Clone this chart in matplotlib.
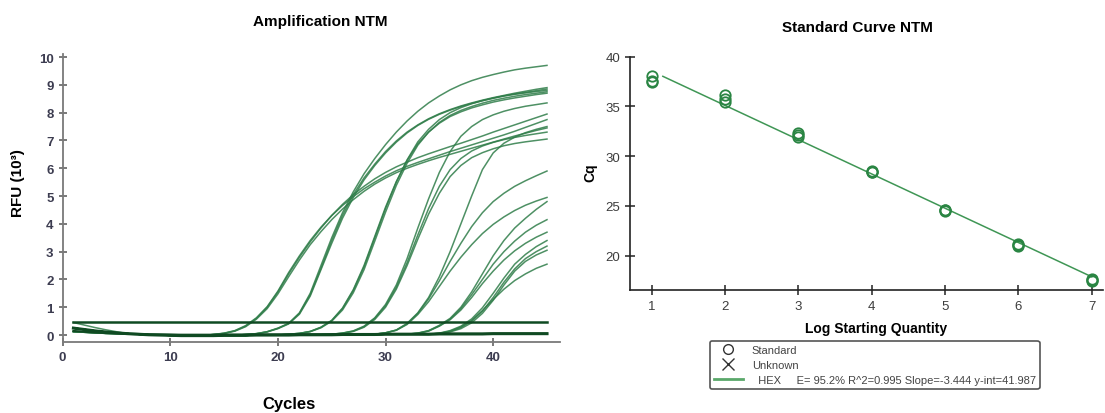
import matplotlib
matplotlib.use("Agg")
import matplotlib.pyplot as plt
from matplotlib.lines import Line2D

plt.rcParams['font.family'] = ['Liberation Sans', 'DejaVu Sans']

# ---- amplification data (RFU x 10^3 per cycle) ----
CYCLES = list(range(1, 46))
THRESHOLD = 0.48

# shared baseline (cycles 1..45)
BASELINE = [0.25, 0.2, 0.15, 0.11, 0.08, 0.05, 0.03, 0.01, 0.0, -0.01,
            -0.02, -0.02, -0.02, -0.02, -0.01, -0.01, -0.01, 0.0, 0.0, 0.0,
            0.0, 0.01, 0.01, 0.01, 0.01, 0.02, 0.02, 0.02, 0.02, 0.03,
            0.03, 0.03, 0.03, 0.03, 0.04, 0.04, 0.04, 0.04, 0.04, 0.05,
            0.05, 0.05, 0.05, 0.05, 0.05]
HOOK_START = [0.45, 0.36, 0.27, 0.19, 0.12]
LOW_START = [0.12, 0.1, 0.08, 0.06, 0.05]

# rising part of each well, from the cycle given in RISE_FROM
LOG7_A = [0.02, 0.06, 0.15, 0.32, 0.6, 1.0, 1.55, 2.2, 2.8, 3.35, 3.85, 4.3, 4.7, 5.05, 5.35, 5.62,
          5.85, 6.05, 6.22, 6.38, 6.52, 6.65, 6.78, 6.9, 7.03, 7.16, 7.3, 7.43, 7.56, 7.69, 7.82, 7.95]
LOG7_B = [0.02, 0.06, 0.14, 0.3, 0.57, 0.95, 1.48, 2.1, 2.7, 3.25, 3.72, 4.15, 4.53, 4.87, 5.17, 5.43,
          5.65, 5.84, 6.0, 6.14, 6.27, 6.39, 6.5, 6.61, 6.72, 6.83, 6.94, 7.05, 7.16, 7.26, 7.36, 7.45]
LOG7_C = [0.02, 0.07, 0.16, 0.34, 0.62, 1.02, 1.58, 2.25, 2.85, 3.4, 3.88, 4.3, 4.66, 4.98, 5.26, 5.5,
          5.72, 5.91, 6.07, 6.21, 6.34, 6.47, 6.6, 6.72, 6.84, 6.96, 7.08, 7.2, 7.33, 7.47, 7.61, 7.75]
LOG6_A = [0.02, 0.05, 0.12, 0.25, 0.42, 0.8, 1.5, 2.5, 3.5, 4.4, 5.15, 5.8, 6.35, 6.85, 7.3, 7.7,
          8.05, 8.35, 8.6, 8.82, 9.0, 9.15, 9.27, 9.37, 9.46, 9.54, 9.6, 9.65, 9.7]
LOG6_B = [0.02, 0.05, 0.12, 0.24, 0.42, 0.78, 1.45, 2.4, 3.4, 4.3, 5.05, 5.65, 6.15, 6.6, 6.98, 7.3,
          7.56, 7.78, 7.96, 8.11, 8.24, 8.35, 8.45, 8.54, 8.62, 8.7, 8.77, 8.84, 8.9]
LOG6_C = [0.02, 0.05, 0.11, 0.23, 0.4, 0.75, 1.4, 2.35, 3.3, 4.2, 4.95, 5.58, 6.1, 6.55, 6.94, 7.27,
          7.54, 7.76, 7.94, 8.09, 8.22, 8.33, 8.43, 8.52, 8.6, 8.67, 8.73, 8.79, 8.85]
LOG5_A = [0.03, 0.06, 0.13, 0.28, 0.52, 0.95, 1.6, 2.45, 3.5, 4.55, 5.5, 6.3, 6.95, 7.4, 7.75, 8.0,
          8.18, 8.32, 8.43, 8.52, 8.6, 8.66, 8.71, 8.76, 8.8]
LOG5_B = [0.03, 0.06, 0.12, 0.26, 0.5, 0.9, 1.52, 2.35, 3.38, 4.42, 5.38, 6.18, 6.83, 7.3, 7.65, 7.9,
          8.08, 8.22, 8.34, 8.44, 8.52, 8.59, 8.65, 8.7, 8.75]
LOG5_C = [0.03, 0.06, 0.13, 0.28, 0.53, 0.97, 1.63, 2.5, 3.55, 4.6, 5.52, 6.28, 6.88, 7.3, 7.62, 7.86,
          8.03, 8.17, 8.28, 8.38, 8.46, 8.53, 8.59, 8.65, 8.7]
LOG4_A = [0.03, 0.07, 0.15, 0.32, 0.62, 1.1, 1.8, 2.75, 3.85, 4.9, 5.85, 6.6, 7.15, 7.5, 7.75, 7.92,
          8.05, 8.15, 8.23, 8.29, 8.35]
LOG4_B = [0.03, 0.07, 0.14, 0.3, 0.6, 1.05, 1.72, 2.6, 3.6, 4.55, 5.35, 5.95, 6.35, 6.62, 6.8, 6.93,
          7.03, 7.11, 7.18, 7.24, 7.3]
LOG4_C = [0.03, 0.06, 0.13, 0.28, 0.56, 1.0, 1.65, 2.5, 3.45, 4.35, 5.1, 5.7, 6.1, 6.38, 6.56, 6.7,
          6.81, 6.89, 6.95, 7.0, 7.05]
LOG3_A = [0.03, 0.08, 0.18, 0.42, 0.8, 1.35, 2.1, 3.0, 4.0, 5.0, 5.95, 6.55, 6.9, 7.12, 7.28, 7.4, 7.5]
LOG3_B = [0.03, 0.08, 0.18, 0.4, 0.78, 1.3, 1.95, 2.65, 3.3, 3.9, 4.4, 4.8, 5.1, 5.35, 5.55, 5.73, 5.9]
LOG3_C = [0.03, 0.08, 0.17, 0.38, 0.74, 1.2, 1.75, 2.3, 2.8, 3.25, 3.65, 3.98, 4.25, 4.48, 4.67, 4.82, 4.95]
LOG2_A = [0.03, 0.07, 0.16, 0.35, 0.6, 1.0, 1.55, 2.2, 2.85, 3.4, 3.85, 4.2, 4.52, 4.8]
LOG2_B = [0.03, 0.07, 0.15, 0.33, 0.57, 0.95, 1.45, 2.0, 2.55, 3.0, 3.38, 3.7, 3.95, 4.15]
LOG2_C = [0.03, 0.06, 0.14, 0.32, 0.55, 0.9, 1.35, 1.85, 2.3, 2.7, 3.03, 3.3, 3.52, 3.7]
LOG1_A = [0.03, 0.07, 0.16, 0.32, 0.58, 0.98, 1.5, 2.05, 2.55, 2.9, 3.18, 3.4]
LOG1_B = [0.03, 0.06, 0.13, 0.27, 0.5, 0.86, 1.35, 1.9, 2.38, 2.75, 3.0, 3.2]
LOG1_C = [0.02, 0.05, 0.11, 0.23, 0.44, 0.78, 1.25, 1.8, 2.3, 2.65, 2.88, 3.05]
LOG1_D = [0.03, 0.06, 0.14, 0.29, 0.53, 0.88, 1.28, 1.65, 1.96, 2.2, 2.4, 2.55]

RISE_FROM = {'log7': 14, 'log6': 17, 'log5': 21, 'log4': 25, 'log3': 29, 'log2': 32, 'log1': 34}

# ---- standard curve data ----
LOG_QTY = [1, 1, 1, 2, 2, 2, 3, 3, 3, 4, 4, 4, 5, 5, 5, 6, 6, 6, 7, 7, 7]
CQ = [38.1, 37.6, 37.5, 36.1, 35.7, 35.4, 32.3, 32.1, 31.9, 28.5, 28.4, 28.4,
      24.6, 24.5, 24.6, 21.2, 21.1, 21.0, 17.7, 17.5, 17.6]
FIT_RANGE = [1.15, 7.0]
EFFICIENCY = 95.2
R2 = 0.995
SLOPE = -3.444
YINT = 41.987

CURVE_COLOR = '#2f7d49'
DARK = '#0f4a22'


def well(group, rise, start=None):
    first = RISE_FROM[group]
    ys = BASELINE[:first - 1] + rise
    if start:
        ys = start + ys[len(start):]
    return ys


fig = plt.figure(figsize=(11.05, 4.14), dpi=100)

# ------------- amplification plot -------------
ax1 = fig.add_axes([0.0567, 0.1715, 0.450, 0.695])
wells = [
    well('log7', LOG7_A), well('log7', LOG7_B, LOW_START), well('log7', LOG7_C),
    well('log6', LOG6_A), well('log6', LOG6_B, LOW_START), well('log6', LOG6_C),
    well('log5', LOG5_A), well('log5', LOG5_B), well('log5', LOG5_C, LOW_START),
    well('log4', LOG4_A), well('log4', LOG4_B), well('log4', LOG4_C),
    well('log3', LOG3_A), well('log3', LOG3_B, LOW_START), well('log3', LOG3_C),
    well('log2', LOG2_A), well('log2', LOG2_B), well('log2', LOG2_C),
    well('log1', LOG1_A, HOOK_START), well('log1', LOG1_B), well('log1', LOG1_C), well('log1', LOG1_D),
]
for ys in wells:
    ax1.plot(CYCLES, ys, color=CURVE_COLOR, lw=1.1, alpha=0.85)
# no template controls
ax1.plot(CYCLES, BASELINE, color=DARK, lw=2.2)
ax1.plot(CYCLES, [b * 0.5 + 0.02 for b in BASELINE], color=DARK, lw=1.6)
# threshold
ax1.plot([CYCLES[0], CYCLES[-1]], [THRESHOLD, THRESHOLD], color=DARK, lw=1.8)

ax1.set_xlim(0, 46.2)
ax1.set_ylim(-0.25, 10.1)
ax1.set_xticks([0, 10, 20, 30, 40])
ax1.set_yticks(range(0, 11))
for s in ['top', 'right']:
    ax1.spines[s].set_visible(False)
for s in ['left', 'bottom']:
    ax1.spines[s].set_color('#7a7a7a')
    ax1.spines[s].set_linewidth(1.3)
ax1.tick_params(direction='inout', length=6, width=1.1, color='#555555',
                labelsize=9.5, labelcolor='#3c3c50')
for lab in ax1.get_xticklabels() + ax1.get_yticklabels():
    lab.set_fontweight('bold')

fig.text(320 / 1105, 1 - 22 / 414, 'Amplification NTM', ha='center', va='center',
         fontsize=11, fontweight='bold')
fig.text(18 / 1105, 1 - 183 / 414, 'RFU (10³)', ha='center', va='center',
         rotation=90, fontsize=11, fontweight='bold')
fig.text(289 / 1105, 1 - 405 / 414, 'Cycles', ha='center', va='center',
         fontsize=12, fontweight='bold')

# ------------- standard curve -------------
ax2 = fig.add_axes([0.570, 0.297, 0.428, 0.5637])
ax2.plot(FIT_RANGE, [SLOPE * x + YINT for x in FIT_RANGE], color='#3f9655', lw=1.1)
ax2.plot(LOG_QTY, CQ, ls='none', marker='o', ms=7.5, mfc='none', mec='#2a8543',
         mew=1.3, clip_on=False)
ax2.set_xlim(0.70, 7.15)
ax2.set_ylim(16.55, 40)
ax2.set_xticks(range(1, 8))
ax2.set_yticks([20, 25, 30, 35, 40])
for s in ['top', 'right']:
    ax2.spines[s].set_visible(False)
for s in ['left', 'bottom']:
    ax2.spines[s].set_color('#222222')
    ax2.spines[s].set_linewidth(1.2)
ax2.tick_params(direction='inout', length=7, width=1.1, color='#222222',
                labelsize=9.5, labelcolor='#3c3c3c')

fig.text(857 / 1105, 1 - 28 / 414, 'Standard Curve NTM', ha='center', va='center',
         fontsize=11, fontweight='bold')
fig.text(590 / 1105, 1 - 173 / 414, 'Cq', ha='center', va='center', rotation=90,
         fontsize=10, fontweight='bold')
fig.text(876 / 1105, 1 - 329 / 414, 'Log Starting Quantity', ha='center', va='center',
         fontsize=10, fontweight='bold')

handles = [
    Line2D([], [], ls='none', marker='o', ms=7, mfc='none', mec='#333333', mew=1.0),
    Line2D([], [], ls='none', marker='x', ms=9, mec='#333333', mew=1.0),
    Line2D([], [], color='#5aa86a', lw=2),
]
labels = ['Standard', 'Unknown',
          f'  HEX     E= {EFFICIENCY}% R^2={R2} Slope={SLOPE} y-int={YINT}']
leg = fig.legend(handles, labels, loc='upper left', bbox_to_anchor=(710 / 1105, 1 - 342 / 414),
                 fontsize=8, frameon=True, fancybox=True, edgecolor='#555555',
                 framealpha=1, borderpad=0.35, labelspacing=0.45, handlelength=2.6,
                 handletextpad=0.8, borderaxespad=0)
for t in leg.get_texts():
    t.set_color('#444444')
leg.get_frame().set_linewidth(1.2)

fig.savefig('out.png', dpi=100)
